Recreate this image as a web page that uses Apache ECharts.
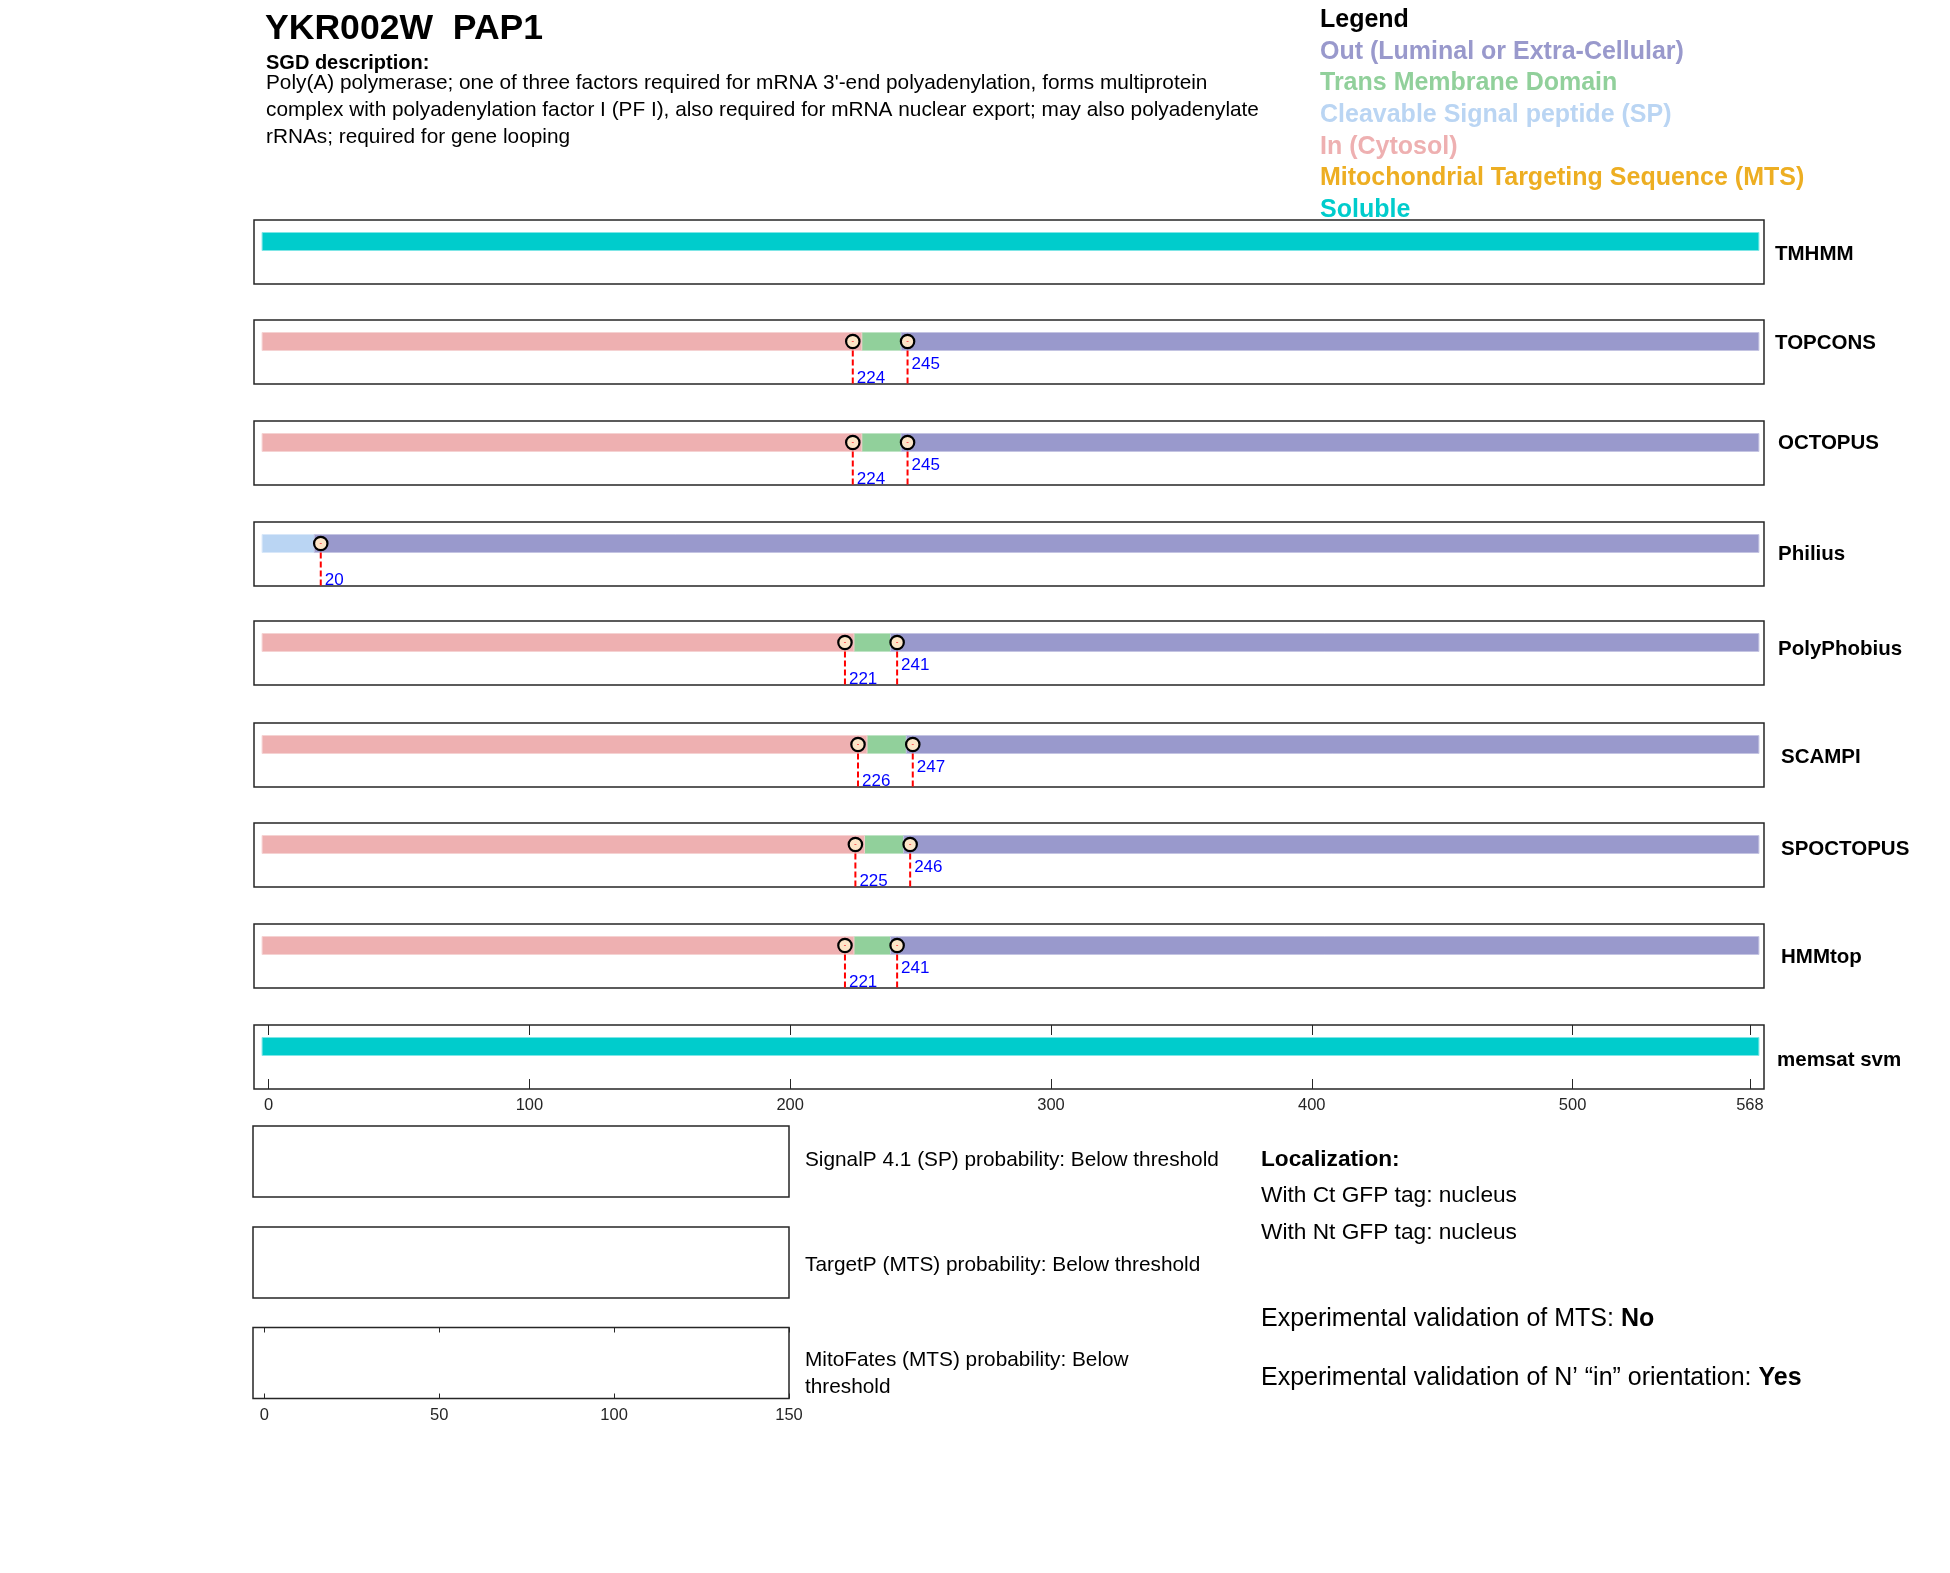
<!DOCTYPE html>
<html>
<head>
<meta charset="utf-8">
<script src="https://cdn.jsdelivr.net/npm/echarts@6/dist/echarts.min.js"></script>
<style>
html,body{margin:0;padding:0;background:#fff;}
#chart{width:1950px;height:1573px;}
</style>
</head>
<body>
<div id="chart"></div>
<script>
// ---------------- DATA ----------------
const proteinLength = 568;
const trackNames = ['TMHMM', 'TOPCONS', 'OCTOPUS', 'Philius', 'PolyPhobius', 'SCAMPI', 'SPOCTOPUS', 'HMMtop', 'memsat svm'];

const tmhmmSegments       = [[0, 568, 'Soluble']];
const topconsSegments     = [[0, 224, 'In'], [224, 245, 'TM'], [245, 568, 'Out']];
const octopusSegments     = [[0, 224, 'In'], [224, 245, 'TM'], [245, 568, 'Out']];
const philiusSegments     = [[0, 20, 'SP'], [20, 568, 'Out']];
const polyphobiusSegments = [[0, 221, 'In'], [221, 241, 'TM'], [241, 568, 'Out']];
const scampiSegments      = [[0, 226, 'In'], [226, 247, 'TM'], [247, 568, 'Out']];
const spoctopusSegments   = [[0, 225, 'In'], [225, 246, 'TM'], [246, 568, 'Out']];
const hmmtopSegments      = [[0, 221, 'In'], [221, 241, 'TM'], [241, 568, 'Out']];
const memsatSegments      = [[0, 568, 'Soluble']];

const tmhmmBoundaries       = [];
const topconsBoundaries     = [224, 245];
const octopusBoundaries     = [224, 245];
const philiusBoundaries     = [20];
const polyphobiusBoundaries = [221, 241];
const scampiBoundaries      = [226, 247];
const spoctopusBoundaries   = [225, 246];
const hmmtopBoundaries      = [221, 241];
const memsatBoundaries      = [];

const memsatTicks = [0, 100, 200, 300, 400, 500, 568];
const mitoTicks = [0, 50, 100, 150];
const mitoMax = 150;

const legendTypes  = ['Out', 'TM', 'SP', 'In', 'MTS', 'Soluble'];
const legendLabels = ['Out (Luminal or Extra-Cellular)', 'Trans Membrane Domain', 'Cleavable Signal peptide (SP)',
                      'In (Cytosol)', 'Mitochondrial Targeting Sequence (MTS)', 'Soluble'];

const titleText = 'YKR002W  PAP1';
const descHeading = 'SGD description:';
const descLines = [
  "Poly(A) polymerase; one of three factors required for mRNA 3'-end polyadenylation, forms multiprotein",
  "complex with polyadenylation factor I (PF I), also required for mRNA nuclear export; may also polyadenylate",
  "rRNAs; required for gene looping"
];
const probTexts = ['SignalP 4.1 (SP) probability: Below threshold', 'TargetP (MTS) probability: Below threshold',
                   'MitoFates (MTS) probability: Below', 'threshold'];
const locHeading = 'Localization:';
const locLines = ['With Ct GFP tag: nucleus', 'With Nt GFP tag: nucleus'];
const expMts = ['Experimental validation of MTS: ', 'No'];
const expOrient = ['Experimental validation of N\u2019 \u201Cin\u201D orientation: ', 'Yes'];

// ---------------- STYLE / LAYOUT ----------------
const FONT = '"Liberation Sans", Arial, Helvetica, sans-serif';
const typeColors = {Out:'#9999CC', TM:'#91D09B', SP:'#BAD5F3', In:'#EEB0B1', MTS:'#EDAE22', Soluble:'#00CCCC'};
const typeStroke = {Out:'#C4C4E2', TM:'#BFE4C5', SP:'#D8E7F9', In:'#F5D2D2', MTS:'#F5D08A', Soluble:'#7FE6E6'};

const allSegments = [tmhmmSegments, topconsSegments, octopusSegments, philiusSegments, polyphobiusSegments,
                     scampiSegments, spoctopusSegments, hmmtopSegments, memsatSegments];
const allBoundaries = [tmhmmBoundaries, topconsBoundaries, octopusBoundaries, philiusBoundaries, polyphobiusBoundaries,
                       scampiBoundaries, spoctopusBoundaries, hmmtopBoundaries, memsatBoundaries];

const trackTops = [220, 320, 421, 522, 621, 723, 823, 924, 1025];
const trackH = 64;
const trackLeft = 254, trackWidth = 1510;
const xMinT = -5.6, xMaxT = 573.4;
const labelPos = [[1775,254],[1775,343],[1778,443],[1778,554],[1778,649],[1781,757],[1781,849],[1781,957],[1777,1060]];

const smallTops = [1126, 1227, 1327.5];
const smallH = 71;
const smallLeft = 253, smallWidth = 536;
const xMinS = -3.23;

const BAR_OFF = 21.5, BAR_H = 18, CAP_L = 6.5, CAP_R = 9;

const grids = [], xAxes = [], yAxes = [], series = [];
const tickLabelStyle = {fontSize: 16.5, color: '#262626', fontFamily: FONT};

trackTops.forEach((t, i) => {
  grids.push({left: trackLeft, top: t, width: trackWidth, height: trackH, show: true,
              borderColor: '#262626', borderWidth: 1.5, backgroundColor: 'rgba(0,0,0,0)'});
  const isLast = i === trackTops.length - 1;
  xAxes.push({
    gridIndex: i, type: 'value', min: xMinT, max: xMaxT, show: isLast, position: 'bottom',
    axisLine: {show: false}, splitLine: {show: false},
    axisTick: {show: isLast, inside: true, length: 10, customValues: memsatTicks, lineStyle: {color: '#262626', width: 1}},
    axisLabel: {show: isLast, customValues: memsatTicks, margin: 8, ...tickLabelStyle}
  });
  yAxes.push({gridIndex: i, type: 'value', min: 0, max: 1, show: false});
});
// top ticks for memsat box
xAxes.push({
  gridIndex: 8, type: 'value', min: xMinT, max: xMaxT, position: 'top',
  axisLine: {show: false}, splitLine: {show: false},
  axisTick: {show: true, inside: true, length: 10, customValues: memsatTicks, lineStyle: {color: '#262626', width: 1}},
  axisLabel: {show: false}
});

smallTops.forEach((t, k) => {
  const gi = grids.length;
  grids.push({left: smallLeft, top: t, width: smallWidth, height: smallH, show: true,
              borderColor: '#262626', borderWidth: 1.5, backgroundColor: 'rgba(0,0,0,0)'});
  const isMito = k === 2;
  xAxes.push({
    gridIndex: gi, type: 'value', min: xMinS, max: mitoMax, show: isMito, position: 'bottom',
    axisLine: {show: false}, splitLine: {show: false},
    axisTick: {show: isMito, inside: true, length: 5, customValues: mitoTicks, lineStyle: {color: '#262626', width: 1}},
    axisLabel: {show: isMito, customValues: mitoTicks, margin: 8, ...tickLabelStyle}
  });
  if (isMito) {
    xAxes.push({
      gridIndex: gi, type: 'value', min: xMinS, max: mitoMax, position: 'top',
      axisLine: {show: false}, splitLine: {show: false},
      axisTick: {show: true, inside: true, length: 5, customValues: mitoTicks, lineStyle: {color: '#262626', width: 1}},
      axisLabel: {show: false}
    });
  }
  yAxes.push({gridIndex: gi, type: 'value', min: 0, max: 1, show: false});
});

// segment series
allSegments.forEach((segs, i) => {
  series.push({
    type: 'custom', xAxisIndex: i, yAxisIndex: i, silent: true,
    data: segs.map(s => [s[0], s[1], legendTypes.indexOf(s[2])]),
    encode: {x: [0, 1]},
    renderItem: function (params, api) {
      const s = api.coord([api.value(0), 1]);
      const e = api.coord([api.value(1), 1]);
      const type = legendTypes[api.value(2)];
      const isTM = type === 'TM';
      const cy = s[1] + BAR_OFF;
      const x0 = isTM ? s[0] : s[0] - CAP_L;
      const x1 = isTM ? e[0] : e[0] + CAP_R;
      return {
        type: 'rect', z2: isTM ? 0 : 1,
        shape: {x: x0, y: cy - BAR_H / 2, width: x1 - x0, height: BAR_H},
        style: {fill: typeColors[type], stroke: typeStroke[type], lineWidth: 1}
      };
    }
  });
});

// boundary markers
allBoundaries.forEach((bs, i) => {
  if (!bs.length) return;
  series.push({
    type: 'custom', xAxisIndex: i, yAxisIndex: i, silent: true, z: 5,
    data: bs.map(v => [v]),
    encode: {x: 0},
    renderItem: function (params, api) {
      const v = api.value(0);
      const top = api.coord([v, 1]);
      const bot = api.coord([v, 0]);
      const x = top[0], cy = top[1] + BAR_OFF;
      const lower = params.dataIndex % 2 === 0;
      return {
        type: 'group',
        children: [
          {type: 'line', shape: {x1: x, y1: cy, x2: x, y2: bot[1]},
           style: {stroke: '#FF0000', lineWidth: 2, lineDash: [6, 3]}},
          {type: 'circle', shape: {cx: x, cy: cy, r: 6.7},
           style: {fill: '#FDE6C8', stroke: '#000000', lineWidth: 2.2}},
          {type: 'line', shape: {x1: x - 1, y1: cy, x2: x + 1, y2: cy},
           style: {stroke: '#FF6060', lineWidth: 1}},
          {type: 'text', x: x + 4, y: bot[1] - (lower ? 6 : 19.5),
           style: {text: String(v), fill: '#0000FF', font: '17px ' + FONT,
                   textAlign: 'left', textVerticalAlign: 'middle', align: 'left', verticalAlign: 'middle'}}
        ]
      };
    }
  });
});

// ---------------- TEXT GRAPHICS ----------------
function txt(text, x, y, size, opts) {
  opts = opts || {};
  const style = {
    text: text, fill: opts.color || '#000',
    font: (opts.bold ? 'bold ' : '') + size + 'px ' + FONT,
    textAlign: opts.align || 'left', textVerticalAlign: 'middle',
    align: opts.align || 'left', verticalAlign: 'middle'
  };
  if (opts.rich) style.rich = opts.rich;
  return {type: 'text', x: x, y: y, silent: true, style: style};
}
const graphics = [];
graphics.push(txt(titleText, 265, 29.5, 35.6, {bold: true}));
graphics.push(txt(descHeading, 266, 63, 20, {bold: true}));
descLines.forEach((l, k) => graphics.push(txt(l, 266, 83.5 + k * 27, 20.8)));
graphics.push(txt('Legend', 1320, 20, 25, {bold: true}));
legendLabels.forEach((l, k) => graphics.push(txt(l, 1320, 52 + k * 31.6, 25, {bold: true, color: typeColors[legendTypes[k]]})));
trackNames.forEach((n, i) => graphics.push(txt(n, labelPos[i][0], labelPos[i][1], 20.5, {bold: true})));
graphics.push(txt(probTexts[0], 805, 1160, 20.8));
graphics.push(txt(probTexts[1], 805, 1265.5, 20.8));
graphics.push(txt(probTexts[2], 805, 1360.5, 20.8));
graphics.push(txt(probTexts[3], 805, 1387.5, 20.8));
graphics.push(txt(locHeading, 1261, 1159.5, 22.7, {bold: true}));
locLines.forEach((l, k) => graphics.push(txt(l, 1261, 1196 + k * 37, 22.7)));
const richB = {b: {fontWeight: 'bold', fontSize: 25, fontFamily: FONT, fill: '#000', color: '#000'}};
graphics.push(txt(expMts[0] + '{b|' + expMts[1] + '}', 1261, 1319.2, 25, {rich: richB}));
graphics.push(txt(expOrient[0] + '{b|' + expOrient[1] + '}', 1261, 1378.2, 25, {rich: richB}));

const chart = echarts.init(document.getElementById('chart'), null, {renderer: 'canvas'});
chart.setOption({
  animation: false,
  backgroundColor: '#ffffff',
  grid: grids,
  xAxis: xAxes,
  yAxis: yAxes,
  series: series,
  graphic: {elements: graphics}
});
</script>
</body>
</html>
